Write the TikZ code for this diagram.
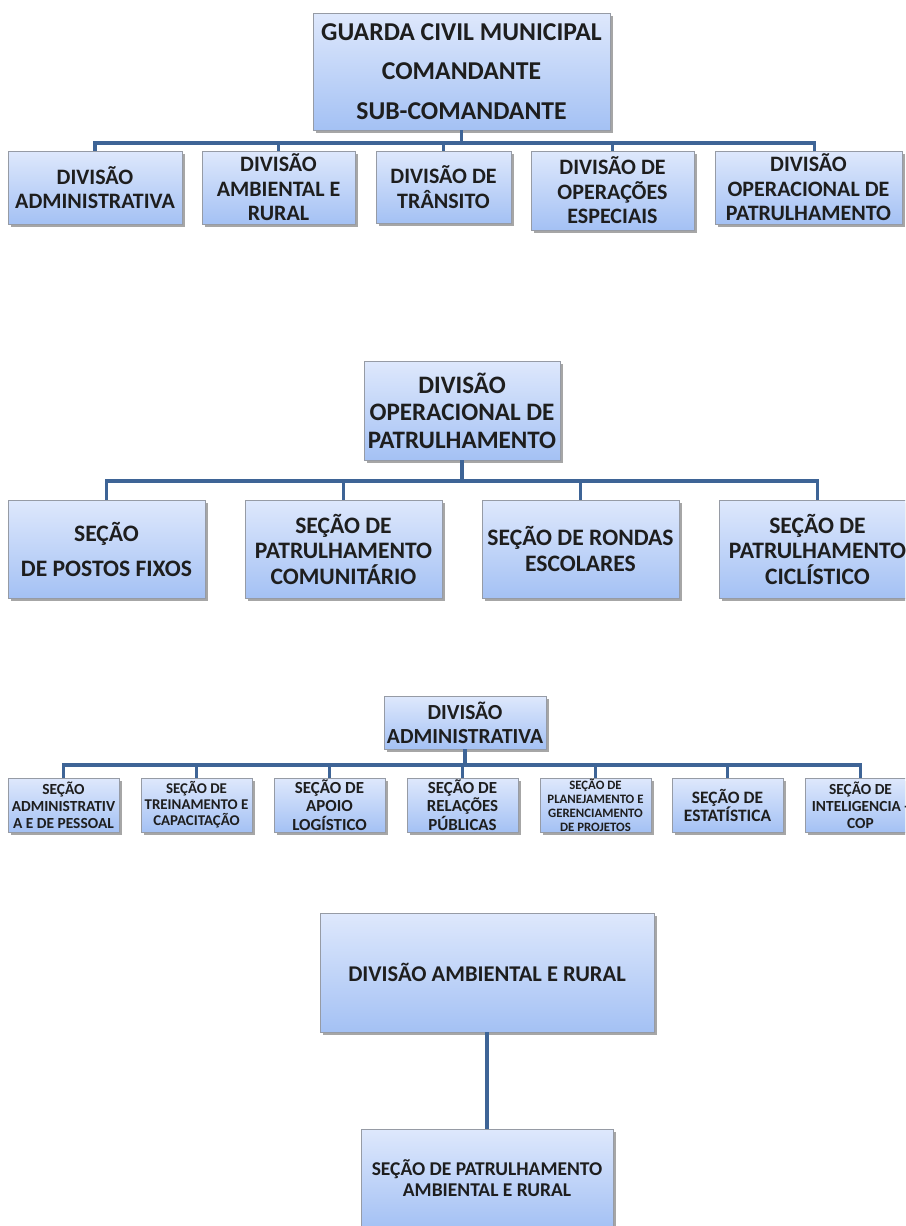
\documentclass[tikz,border=0pt]{standalone}
\usepackage{fontspec}
\setmainfont{Carlito}
\usetikzlibrary{shadows}
\definecolor{boxtop}{RGB}{222,232,252}
\definecolor{boxbot}{RGB}{164,193,244}
\definecolor{boxline}{RGB}{150,155,165}
\definecolor{connc}{RGB}{62,100,150}
\definecolor{txt}{RGB}{30,30,30}
\newcommand{\fsz}[2]{\fontsize{#1}{#2}\selectfont\bfseries}
\tikzset{
 box/.style={draw=boxline, line width=0.9pt, top color=boxtop, bottom color=boxbot,
   inner sep=0pt, align=center, text=txt,
   drop shadow={shadow xshift=2.5pt, shadow yshift=-2.5pt, opacity=0.35, fill=black}},
 link/.style={draw=connc, line width=3.8pt},
 lvtwo/.style={box, minimum height=73pt, font={\fsz{22}{24.5}}},
 sectwo/.style={box, minimum width=197pt, minimum height=98pt, font={\fsz{23.6}{25.5}}},
 secthree/.style={box, minimum width=111pt, minimum height=54pt},
}
\begin{document}
\begin{tikzpicture}[x=1pt,y=-1pt]
\useasboundingbox (0,0) rectangle (905,1226);
\fill[white] (0,0) rectangle (905,1226);
\clip (0,0) rectangle (905,1226);

% ---------- Section 1 ----------
\node[box, minimum width=297pt, minimum height=117pt, font={\fsz{25.7}{39.5}}] (gcm) at (461.5,71.5)
  {GUARDA CIVIL MUNICIPAL\\COMANDANTE\\SUB-COMANDANTE};
\node[lvtwo, minimum width=174pt] (da) at (95,187.5) {DIVISÃO\\ADMINISTRATIVA};
\node[lvtwo, minimum width=153pt] (dar) at (278.5,187.5) {DIVISÃO\\AMBIENTAL E\\RURAL};
\node[lvtwo, minimum width=135pt, minimum height=72pt] (dt) at (443.5,187) {DIVISÃO DE\\TRÂNSITO};
\node[lvtwo, minimum width=163pt, minimum height=79pt] (doe) at (612.5,190.5) {DIVISÃO DE\\OPERAÇÕES\\ESPECIAIS};
\node[lvtwo, minimum width=187pt] (dop) at (808.5,187.5) {DIVISÃO\\OPERACIONAL DE\\PATRULHAMENTO};
\coordinate (bus1) at (461.5,143);
\draw[link] (gcm.south) -- (bus1);
\draw[link] (bus1) -| (da.north);
\draw[link] (bus1) -| (dar.north);
\draw[link] (bus1) -| (dt.north);
\draw[link] (bus1) -| (doe.north);
\draw[link] (bus1) -| ([xshift=6pt]dop.north);

% ---------- Section 2 ----------
\node[box, minimum width=196pt, minimum height=99pt, font={\fsz{25.1}{27.5}}] (dopb) at (462,410.5)
  {DIVISÃO\\OPERACIONAL DE\\PATRULHAMENTO};
\node[sectwo, font={\fsz{23.6}{35}}] (spf) at (106.5,549) {SEÇÃO\\ DE POSTOS FIXOS};
\node[sectwo] (spc) at (343.5,549) {SEÇÃO DE\\PATRULHAMENTO\\COMUNITÁRIO};
\node[sectwo, font={\fsz{23.6}{26}}] (sre) at (580.5,549) {SEÇÃO DE RONDAS\\ESCOLARES};
\node[sectwo] (spcc) at (817.5,549) {SEÇÃO DE\\PATRULHAMENTO\\CICLÍSTICO};
\coordinate (bus2) at (462,481);
\draw[link] (dopb.south) -- (bus2);
\draw[link] (bus2) -| (spf.north);
\draw[link] (bus2) -| (spc.north);
\draw[link] (bus2) -| (sre.north);
\draw[link] (bus2) -| (spcc.north);

% ---------- Section 3 ----------
\node[box, minimum width=162pt, minimum height=53pt, font={\fsz{21.5}{24}}] (dab) at (465,722.5)
  {DIVISÃO\\ADMINISTRATIVA};
\node[secthree, font={\fsz{15.4}{17}}] (t1) at (63.5,805) {SEÇÃO\\ADMINISTRATIV\\A E DE PESSOAL};
\node[secthree, font={\fsz{14.9}{16}}] (t2) at (196.5,805) {SEÇÃO DE\\TREINAMENTO E\\CAPACITAÇÃO};
\node[secthree, font={\fsz{16.9}{18.5}}] (t3) at (329.5,805) {SEÇÃO DE\\APOIO\\LOGÍSTICO};
\node[secthree, font={\fsz{16.9}{18.5}}] (t4) at (462.5,805) {SEÇÃO DE\\RELAÇÕES\\PÚBLICAS};
\node[secthree, font={\fsz{12.8}{14}}] (t5) at (595.5,805) {SEÇÃO DE\\PLANEJAMENTO E\\GERENCIAMENTO\\DE PROJETOS};
\node[secthree, font={\fsz{17.4}{18}}] (t6) at (727.5,805) {SEÇÃO DE\\ESTATÍSTICA};
\node[secthree, font={\fsz{15.4}{17}}] (t7) at (860.5,805) {SEÇÃO DE\\INTELIGENCIA -\\COP};
\coordinate (bus3) at (465,765);
\draw[link] (dab.south) -- (bus3);
\foreach \n in {t1,t2,t3,t4,t5,t6,t7}{\draw[link] (bus3) -| (\n.north);}

% ---------- Section 4 ----------
\node[box, minimum width=334pt, minimum height=119pt, font={\fsz{22.5}{25}}] (darb) at (487,972.5)
  {DIVISÃO AMBIENTAL E RURAL};
\node[box, minimum width=252pt, minimum height=99pt, font={\fsz{19.5}{21}}] (spar) at (487,1178.5)
  {SEÇÃO DE PATRULHAMENTO\\AMBIENTAL E RURAL};
\draw[link] (darb.south) -- (spar.north);
\end{tikzpicture}
\end{document}
